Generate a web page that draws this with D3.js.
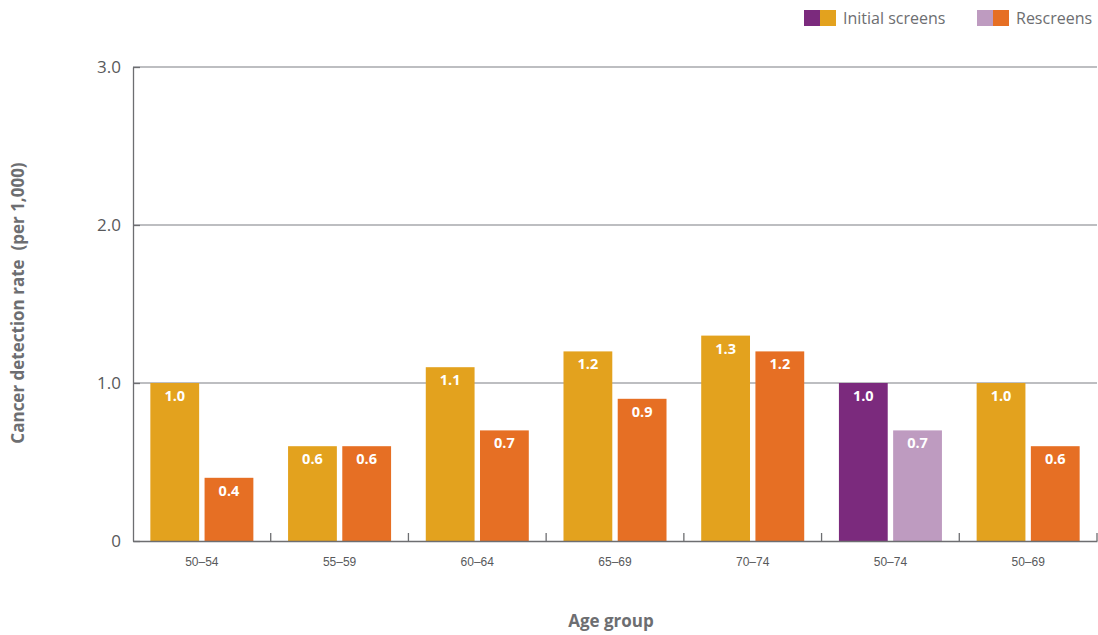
<!DOCTYPE html>
<html><head><meta charset="utf-8">
<script src="https://cdn.jsdelivr.net/npm/d3@7"></script>
<style>body{margin:0;background:#fff}svg{display:block;font-family:"Open Sans","Noto Sans",sans-serif}</style>
</head><body><svg id="c" width="1098" height="635"></svg>
<script>
const categories = ["50–54","55–59","60–64","65–69","70–74","50–74","50–69"];
const initialScreens = [1.0,0.6,1.1,1.2,1.3,1.0,1.0];
const rescreens = [0.4,0.6,0.7,0.9,1.2,0.7,0.6];
const yTicks = [0,1,2,3];
const yTickLabels = ["0","1.0","2.0","3.0"];
const seriesNames = ["Initial screens","Rescreens"];
const highlightCategory = "50–74";

const colInit = "#e3a21e", colRe = "#e66f24", colInitH = "#7b2a7d", colReH = "#be9bc0";
const svg = d3.select("#c");
const x0 = 133, x1 = 1097, yB = 541, yT = 67;
const x = d3.scaleBand().domain(categories).range([x0, x1]).paddingInner(0).paddingOuter(0);
const y = d3.scaleLinear().domain([0,3]).range([yB, yT]);
const sub = d3.scaleBand().domain([0,1]).range([0, x.bandwidth()]).paddingInner(0.1).paddingOuter(0.32);

// gridlines
svg.append("g").selectAll("line").data(yTicks.filter(d=>d>0)).join("line")
  .attr("x1", x0).attr("x2", x1).attr("y1", d=>y(d)).attr("y2", d=>y(d))
  .attr("stroke", "#a7a9ac").attr("stroke-width", 1.3);

// y axis
const ya = d3.axisLeft(y).tickValues(yTicks).tickFormat((d,i)=>yTickLabels[i]).tickSizeInner(-7).tickSizeOuter(0).tickPadding(12);
const yg = svg.append("g").attr("transform", `translate(${x0},0)`).call(ya);
yg.select(".domain").attr("stroke", "#6d6e71").attr("stroke-width", 1.3);
yg.selectAll(".tick line").attr("stroke", "#6d6e71").attr("stroke-width", 1.3);
yg.selectAll(".tick text").attr("x", -12).attr("font-size", 17).attr("fill", "#58595b").attr("dy", "0.32em").attr("font-family", "'Open Sans',sans-serif");

// bars
const data = categories.map((c,i)=>({c, v:[initialScreens[i], rescreens[i]]}));
const g = svg.append("g").selectAll("g").data(data).join("g").attr("transform", d=>`translate(${x(d.c)},0)`);
g.selectAll("rect").data(d=>d.v.map((v,k)=>({v,k,c:d.c}))).join("rect")
  .attr("x", d=>sub(d.k)).attr("width", sub.bandwidth())
  .attr("y", d=>y(d.v)).attr("height", d=>yB - y(d.v))
  .attr("fill", d=> d.c===highlightCategory ? (d.k===0?colInitH:colReH) : (d.k===0?colInit:colRe));
g.selectAll("text").data(d=>d.v.map((v,k)=>({v,k}))).join("text")
  .attr("x", d=>sub(d.k)+sub.bandwidth()/2).attr("y", d=>y(d.v)+18)
  .attr("text-anchor","middle").attr("font-size", 14.5).attr("font-weight", "bold").attr("fill", "#fff")
  .text(d=>d.v.toFixed(1));

// x axis
const xa = d3.axisBottom(x).tickSize(0).tickPadding(16);
const xg = svg.append("g").attr("transform", `translate(0,${yB})`).call(xa);
xg.select(".domain").attr("stroke", "#6d6e71").attr("stroke-width", 1.3);
xg.selectAll(".tick text").attr("font-size", 12).attr("fill", "#58595b");
// group separators
svg.append("g").selectAll("line").data(categories.slice(1).concat([null])).join("line")
  .attr("x1", d=> d===null ? x1 : x(d)).attr("x2", d=> d===null ? x1 : x(d))
  .attr("y1", yB).attr("y2", yB-8).attr("stroke", "#6d6e71").attr("stroke-width", 1.3);

// axis titles
svg.append("text").attr("transform", "translate(24,303) rotate(-90)").attr("text-anchor","middle")
  .style("white-space","pre")
  .attr("font-size", 17).attr("font-weight","bold").attr("fill","#6d6e71").text("Cancer detection rate  (per 1,000)");
svg.append("text").attr("x", 611).attr("y", 627).attr("text-anchor","middle")
  .attr("font-size", 17).attr("font-weight","bold").attr("fill","#6d6e71").text("Age group");

// legend
const leg = [{name:seriesNames[0], c1:colInitH, c2:colInit, x:804},{name:seriesNames[1], c1:colReH, c2:colRe, x:977}];
const lg = svg.append("g").selectAll("g").data(leg).join("g").attr("transform", d=>`translate(${d.x},10)`);
lg.append("rect").attr("width",16).attr("height",16).attr("fill", d=>d.c1);
lg.append("rect").attr("x",16).attr("width",16).attr("height",16).attr("fill", d=>d.c2);
lg.append("text").attr("x", 39).attr("y", 14).attr("font-size", 16).attr("fill", "#6d6e71").text(d=>d.name);
</script></body></html>
